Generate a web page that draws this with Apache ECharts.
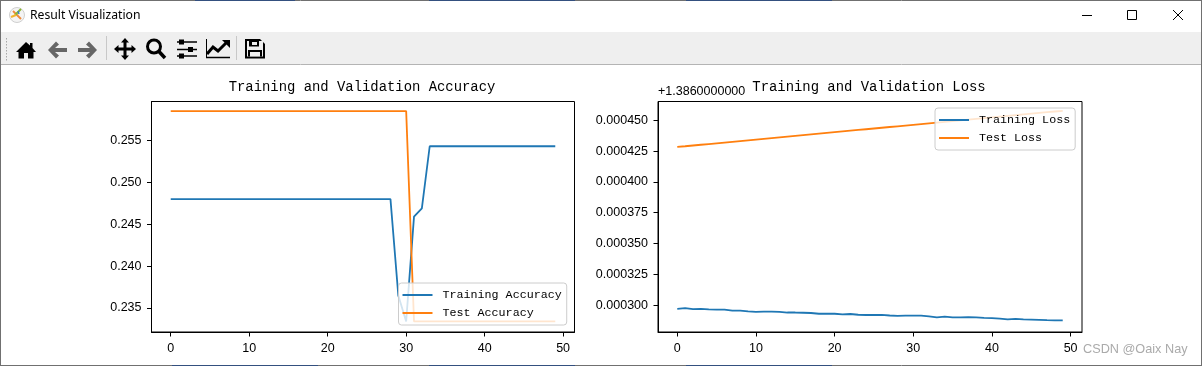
<!DOCTYPE html>
<html><head><meta charset="utf-8">
<style>html,body{margin:0;padding:0;background:#fff}#c{width:1202px;height:366px}</style>
<script src="https://cdn.jsdelivr.net/npm/echarts@6/dist/echarts.min.js"></script>
</head><body><div id="c"></div>
<script>
const epochs = [0,1,2,3,4,5,6,7,8,9,10,11,12,13,14,15,16,17,18,19,20,21,22,23,24,25,26,27,28,29,30,31,32,33,34,35,36,37,38,39,40,41,42,43,44,45,46,47,48,49];
const trainAcc = [0.248,0.248,0.248,0.248,0.248,0.248,0.248,0.248,0.248,0.248,0.248,0.248,0.248,0.248,0.248,0.248,0.248,0.248,0.248,0.248,0.248,0.248,0.248,0.248,0.248,0.248,0.248,0.248,0.248,0.2365,0.2334,0.2459,0.2469,0.2543,0.2543,0.2543,0.2543,0.2543,0.2543,0.2543,0.2543,0.2543,0.2543,0.2543,0.2543,0.2543,0.2543,0.2543,0.2543,0.2543];
const testAcc = [0.2585,0.2585,0.2585,0.2585,0.2585,0.2585,0.2585,0.2585,0.2585,0.2585,0.2585,0.2585,0.2585,0.2585,0.2585,0.2585,0.2585,0.2585,0.2585,0.2585,0.2585,0.2585,0.2585,0.2585,0.2585,0.2585,0.2585,0.2585,0.2585,0.2585,0.2585,0.2334,0.2334,0.2334,0.2334,0.2334,0.2334,0.2334,0.2334,0.2334,0.2334,0.2334,0.2334,0.2334,0.2334,0.2334,0.2334,0.2334,0.2334,0.2334];
const trainLoss = [0.0002970,0.0002975,0.0002967,0.0002970,0.0002965,0.0002964,0.0002964,0.0002956,0.0002956,0.0002949,0.0002946,0.0002947,0.0002947,0.0002945,0.0002940,0.0002940,0.0002938,0.0002936,0.0002930,0.0002930,0.0002930,0.0002925,0.0002928,0.0002922,0.0002920,0.0002920,0.0002921,0.0002916,0.0002912,0.0002915,0.0002915,0.0002915,0.0002909,0.0002901,0.0002906,0.0002901,0.0002900,0.0002903,0.0002900,0.0002896,0.0002894,0.0002890,0.0002884,0.0002888,0.0002884,0.0002883,0.0002881,0.0002878,0.0002876,0.0002876];
const testLoss = [0.0004284,0.0004289,0.0004295,0.0004301,0.0004307,0.0004313,0.0004319,0.0004325,0.0004331,0.0004337,0.0004343,0.0004349,0.0004355,0.0004361,0.0004367,0.0004373,0.0004379,0.0004385,0.0004391,0.0004397,0.0004403,0.0004409,0.0004415,0.0004421,0.0004427,0.0004433,0.0004439,0.0004445,0.0004451,0.0004457,0.0004463,0.0004469,0.0004475,0.0004481,0.0004487,0.0004493,0.0004499,0.0004505,0.0004511,0.0004517,0.0004523,0.0004529,0.0004535,0.0004541,0.0004547,0.0004553,0.0004559,0.0004565,0.0004571,0.0004576];
const xTicks = [0,10,20,30,40,50];
const accTicks = [0.235,0.24,0.245,0.25,0.255];
const lossTicks = [0.0003,0.000325,0.00035,0.000375,0.0004,0.000425,0.00045];
const FONT = '"Liberation Mono","DejaVu Sans Mono",monospace';
const NUMFONT = '"Liberation Sans",Arial,sans-serif';
const pair = (a) => epochs.map((e,i)=>[e,a[i]]);
const xAxis = (g) => ({type:'value',gridIndex:g,min:-2.45,max:51.45,splitLine:{show:false},
  axisLine:{show:true,onZero:false,lineStyle:{color:'#000',width:1}},
  axisTick:{show:true,length:4.5,customValues:xTicks,lineStyle:{color:'#000'}},
  axisLabel:{customValues:xTicks,color:'#000',fontFamily:NUMFONT,fontSize:12.5,margin:10,formatter:v=>String(v)}});
const yAxis = (g,mn,mx,t,d) => ({type:'value',gridIndex:g,min:mn,max:mx,splitLine:{show:false},
  axisLine:{show:true,onZero:false,lineStyle:{color:'#000',width:1}},
  axisTick:{show:true,length:4.5,customValues:t,lineStyle:{color:'#000'}},
  axisLabel:{customValues:t,color:'#000',fontFamily:NUMFONT,fontSize:12.5,margin:10,formatter:v=>v.toFixed(d)}});
const line = (name,a,g,color) => ({name,type:'line',xAxisIndex:g,yAxisIndex:g,data:pair(a),showSymbol:false,symbol:'none',
  animation:false,lineStyle:{color,width:1.8},itemStyle:{color}});
const legend = (data,pos) => Object.assign({data,orient:'vertical',icon:'rect',itemWidth:30,itemHeight:2,itemGap:6,
  backgroundColor:'rgba(255,255,255,0.8)',borderColor:'#ccc',borderWidth:1,borderRadius:3,padding:[6,5,6,4],
  textStyle:{fontFamily:FONT,fontSize:11.7,color:'#000',padding:[0,0,0,5]},selectedMode:false},pos);
const rect = (x,y,w,h,fill) => ({type:'rect',silent:true,z:-1,shape:{x,y,width:w,height:h},style:{fill}});
const ln = (x1,y1,x2,y2,stroke,lineWidth) => ({type:'line',silent:true,z:-1,shape:{x1,y1,x2,y2},style:{stroke,lineWidth}});
const poly = (ox,oy,pts,fill) => ({type:'polygon',silent:true,z:-1,shape:{points:pts.map(p=>[p[0]+ox,p[1]+oy])},style:{fill}});
const chrome = [
  rect(0,0,1202,366,'#ffffff'),
  rect(0,32,1202,32,'#efefef'),
  ln(0,64.5,1202,64.5,'#b4b4b4',1),
  ln(0.5,0,0.5,366,'#707070',1), ln(1201.5,0,1201.5,366,'#707070',1),
  ln(0,0.5,1202,0.5,'#707070',1), ln(0,365.5,1202,365.5,'#707070',1),
  rect(195,0,100,1,'#34507f'), rect(429,0,146,1,'#34507f'), rect(686,0,146,1,'#34507f'),
  rect(172,365,146,1,'#34507f'), rect(429,365,146,1,'#34507f'), rect(686,365,146,1,'#34507f'),
  ln(1082,15.5,1092,15.5,'#000',1),
  {type:'rect',silent:true,z:-1,shape:{x:1127.5,y:10.5,width:9,height:9},style:{fill:'none',stroke:'#000',lineWidth:1}},
  ln(1173,10,1183,20,'#000',1), ln(1183,10,1173,20,'#000',1),
  {type:'circle',silent:true,z:-1,shape:{cx:17,cy:15,r:7.5},style:{fill:'#f4f4f4',stroke:'#cfcfcf',lineWidth:1}},
  ln(13,11,21,19,'#ef8a3c',2), ln(21,9,15,15,'#8ab82e',2), ln(11,17,16,15,'#f2b32c',2), ln(18,11,19,14,'#3f7fc0',1.5),
  {type:'text',silent:true,z:-1,style:{x:30,y:16,text:'Result Visualization',fill:'#000',font:'12.2px "Noto Sans","Open Sans",sans-serif',textVerticalAlign:'middle'}},
  ln(106.5,36,106.5,60,'#c8c8c8',1), ln(236.5,36,236.5,60,'#c8c8c8',1),
  ...[38,41,44,47,50,53,56,59].map(y=>rect(6,y,1,1.5,'#a8a8a8')),
  poly(16,42,[[10,0],[14,3.5],[14,1],[16.5,1],[16.5,6],[20,10],[17.5,10],[17.5,16.5],[12,16.5],[12,11],[8,11],[8,16.5],[2.5,16.5],[2.5,10],[0,10]],'#000'),
  poly(48,41.5,[[8,0],[11,3],[7,6.5],[19,6.5],[19,10.5],[7,10.5],[11,14],[8,17],[0,8.5]],'#666'),
  poly(78,41.5,[[11,0],[8,3],[12,6.5],[0,6.5],[0,10.5],[12,10.5],[8,14],[11,17],[19,8.5]],'#666'),
  poly(114,38,[[11,0],[15,4.5],[12.5,4.5],[12.5,9.5],[17.5,9.5],[17.5,7],[22,11],[17.5,15],[17.5,12.5],[12.5,12.5],[12.5,17.5],[15,17.5],[11,22],[7,17.5],[9.5,17.5],[9.5,12.5],[4.5,12.5],[4.5,15],[0,11],[4.5,7],[4.5,9.5],[9.5,9.5],[9.5,4.5],[7,4.5]],'#000'),
  {type:'circle',silent:true,z:-1,shape:{cx:154,cy:46.5,r:6.5},style:{fill:'none',stroke:'#000',lineWidth:3}},
  ln(158.5,51,165,58,'#000',3.5),
  ln(177,42,197,42,'#000',1.5), ln(177,49.5,197,49.5,'#000',1.5), ln(177,56,197,56,'#000',1.5),
  rect(179,39.5,5,5,'#000'), rect(188,47,5,5,'#000'), rect(179,53.5,5,5,'#000'),
  ln(206.5,39,206.5,58,'#000',1), ln(206,57.5,230,57.5,'#000',1.5),
  {type:'polyline',silent:true,z:-1,shape:{points:[[207,54],[213,47],[218,51],[226,43]]},style:{fill:'none',stroke:'#000',lineWidth:3}},
  poly(222,40,[[0,0],[8,0],[8,8]],'#000'),
  poly(245,39,[[1,0],[15,0],[20,5],[20,19.5],[0,19.5],[0,0]],'#000'),
  rect(247,41,16,15.5,'#efefef'),
  rect(249,41,10,5.5,'#000'), rect(252,42,5,3,'#efefef'),
  rect(248,50,14,6.5,'#000'), rect(250,52,10,4.5,'#efefef'),
  {type:'text',silent:true,z:-1,style:{x:658,y:92,text:'+1.3860000000',fill:'#000',font:'12.5px '+NUMFONT,textVerticalAlign:'middle'}},
  {type:'text',silent:true,z:10,style:{x:1083,y:349.5,text:'CSDN @Oaix Nay',fill:'#aaaaaa',font:'12.7px "Liberation Sans",sans-serif',textVerticalAlign:'middle'}}
];
const chart = echarts.init(document.getElementById('c'),null,{renderer:'canvas'});
chart.setOption({
  animation:false,
  title:[
    {text:'Training and Validation Accuracy',left:362,top:80,textAlign:'center',padding:0,textStyle:{fontFamily:FONT,fontSize:13.9,fontWeight:'normal',color:'#000'}},
    {text:'Training and Validation Loss',left:869,top:80,textAlign:'center',padding:0,textStyle:{fontFamily:FONT,fontSize:13.9,fontWeight:'normal',color:'#000'}}
  ],
  grid:[
    {left:151.5,top:101.5,width:423,height:230.5,show:true,borderColor:'#000',borderWidth:1,backgroundColor:'transparent'},
    {left:658,top:101.5,width:424,height:230.5,show:true,borderColor:'#000',borderWidth:1,backgroundColor:'transparent'}
  ],
  xAxis:[xAxis(0),xAxis(1)],
  yAxis:[yAxis(0,0.23214,0.25964,accTicks,3),yAxis(1,0.0002782,0.0004652,lossTicks,6)],
  legend:[
    legend(['Training Accuracy','Test Accuracy'],{left:398.5,top:283}),
    legend(['Training Loss','Test Loss'],{left:935,top:108})
  ],
  series:[
    line('Training Accuracy',trainAcc,0,'#1f77b4'),
    line('Test Accuracy',testAcc,0,'#ff7f0e'),
    line('Training Loss',trainLoss,1,'#1f77b4'),
    line('Test Loss',testLoss,1,'#ff7f0e')
  ],
  graphic:{elements:chrome}
});
</script></body></html>
